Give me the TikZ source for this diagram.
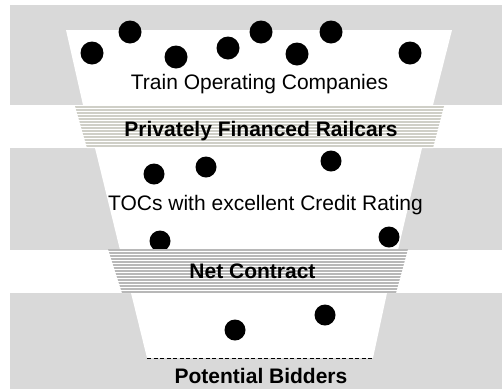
\documentclass[tikz,border=0pt]{standalone}
\usepackage{fontspec}
\setmainfont{Liberation Sans}
\definecolor{bandgray}{HTML}{D9D9D9}
\definecolor{stripeA}{HTML}{CFCFC7}
\definecolor{stripeB}{HTML}{B8B8B8}
\begin{document}
\begin{tikzpicture}[x=1pt,y=-1pt,
  band/.style={fill=bandgray,draw=none},
  funnel/.style={fill=white,draw=none},
  dot/.style={circle,fill=black,inner sep=0pt,minimum size=#1},
  dot/.default=23pt,
  lbl/.style={anchor=base,inner sep=0pt,font=\fontsize{21}{24}\selectfont},
  blbl/.style={lbl,font=\fontsize{21}{24}\selectfont\bfseries}]
\useasboundingbox (0,0) rectangle (502,389);
% gray bands
\fill[band] (10,5) rectangle (502,105);
\fill[band] (10,148) rectangle (502,250);
\fill[band] (10,293) rectangle (502,389);
% funnel pieces
\fill[funnel] (66,30) -- (452,30) -- (433,105) -- (83,105) -- cycle;
\fill[funnel] (95,148) -- (422,148) -- (398,250) -- (120,250) -- cycle;
\fill[funnel] (131,293) -- (387,293) -- (373,358) -- (147,358) -- cycle;
% dots band 1
\node[dot] (d1) at (92,53) {};
\node[dot] (d2) at (130,32) {};
\node[dot] (d3) at (176,57) {};
\node[dot] (d4) at (228,48) {};
\node[dot] (d5) at (261,32) {};
\node[dot] (d6) at (297,54) {};
\node[dot] (d7) at (331,32) {};
\node[dot] (d8) at (410,53) {};
% dots band 2
\node[dot=21pt] (e1) at (154,174) {};
\node[dot=21pt] (e2) at (206,167) {};
\node[dot=21pt] (e3) at (331,161) {};
\node[dot=21pt] (e4) at (160,241) {};
\node[dot=21pt] (e5) at (389,237) {};
% dots band 3
\node[dot=21pt] (f1) at (235,330) {};
\node[dot=21pt] (f2) at (325,315) {};
% striped bands
\fill[white] (75,106) -- (444,106) -- (433,148) -- (87,148) -- cycle;
\begin{scope}
  \clip (75,106) -- (444,106) -- (433,148) -- (87,148) -- cycle;
  \foreach \y in {107,110,...,147} \draw[stripeA,line width=1.3pt] (70,\y) -- (450,\y);
\end{scope}
\fill[white] (108,249) -- (408,249) -- (396,293) -- (122,293) -- cycle;
\begin{scope}
  \clip (108,249) -- (408,249) -- (396,293) -- (122,293) -- cycle;
  \foreach \y in {250,253,...,292} \draw[stripeB,line width=1.1pt] (100,\y) -- (420,\y);
\end{scope}
% dashed bottom
\coordinate (bl) at (147,358);
\coordinate (br) at (373,358);
\draw[dashed,line width=0.8pt,dash pattern=on 4pt off 2.5pt] (bl) -- (br);
% labels
\node[lbl] (t1) at (259.5,89) {Train Operating Companies};
\node[blbl] (t2) at (261,136) {Privately Financed Railcars};
\node[lbl] (t3) at (265.5,210) {TOCs with excellent Credit Rating};
\node[blbl] (t4) at (252.5,278) {Net Contract};
\node[blbl] (t5) at (261,383) {Potential Bidders};
\end{tikzpicture}
\end{document}
